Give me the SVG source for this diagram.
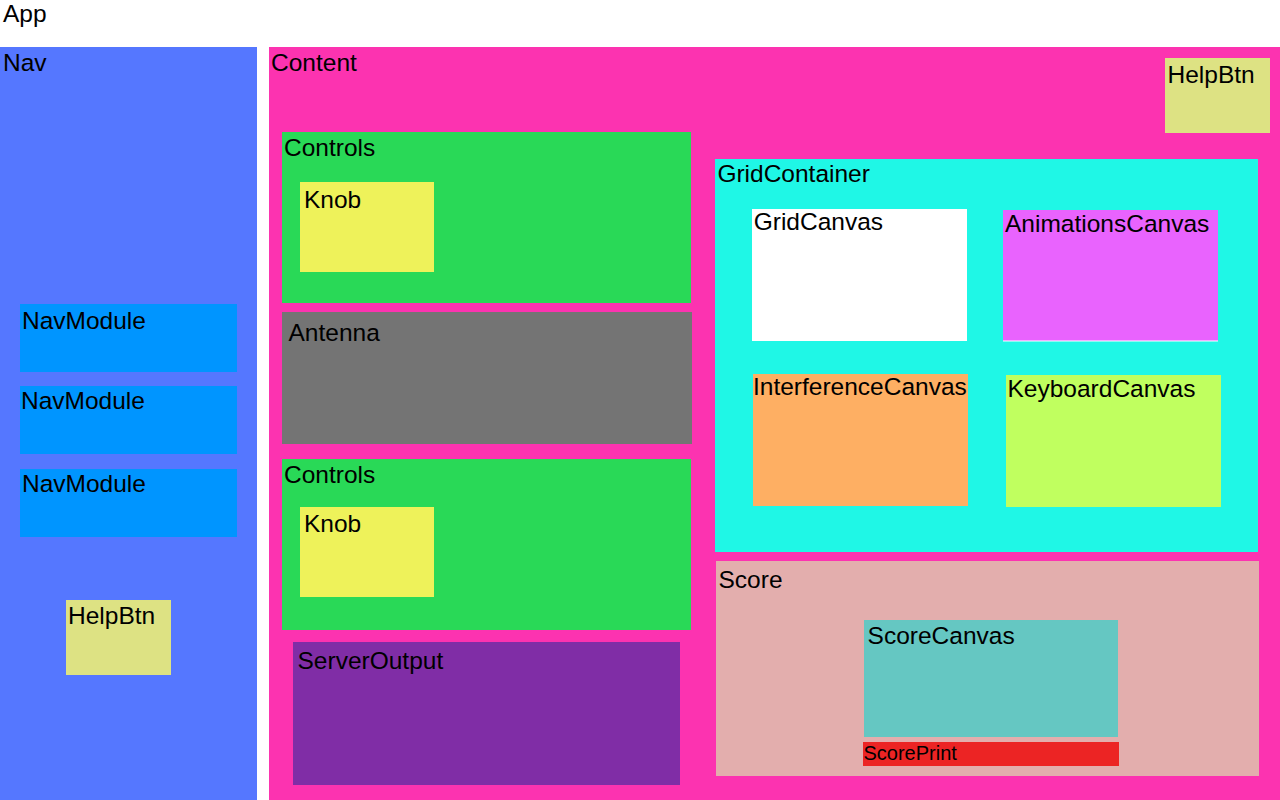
<svg xmlns="http://www.w3.org/2000/svg" width="1280" height="800" viewBox="0 0 1280 800">
<style>
text{font-family:"Liberation Sans",Arial,sans-serif;font-size:24.5px;fill:#000}
.sm{font-size:20px}
</style>
<rect x="0" y="0" width="1280" height="800" fill="#ffffff"/>
<g id="app"><text x="3" y="22">App</text></g>
<g id="nav">
<rect x="0" y="47" width="257" height="753" fill="#5577FF"/>
<text x="3" y="71">Nav</text>
</g>
<g id="navmodule1"><rect x="20" y="304" width="217" height="68" fill="#0095FF"/><text x="22" y="329">NavModule</text></g>
<g id="navmodule2"><rect x="20" y="386" width="217" height="68" fill="#0095FF"/><text x="21" y="409">NavModule</text></g>
<g id="navmodule3"><rect x="20" y="469" width="217" height="68" fill="#0095FF"/><text x="22" y="492">NavModule</text></g>
<g id="nav-helpbtn"><rect x="66" y="600" width="105" height="75" fill="#DDE283"/><text x="68" y="624">HelpBtn</text></g>
<g id="content">
<rect x="269" y="47" width="1011" height="753" fill="#FC33B0"/>
<text x="271" y="71">Content</text>
</g>
<g id="content-helpbtn"><rect x="1165" y="58" width="105" height="75" fill="#DDE283"/><text x="1167.5" y="82.5">HelpBtn</text></g>
<g id="controls1"><rect x="282" y="132" width="409" height="171" fill="#29D957"/><text x="284" y="155.5">Controls</text></g>
<g id="knob1"><rect x="300" y="182" width="134" height="90" fill="#EEF25A"/><text x="304" y="207.5">Knob</text></g>
<g id="antenna"><rect x="282" y="312" width="410" height="132" fill="#747474"/><text x="288.5" y="341">Antenna</text></g>
<g id="controls2"><rect x="282" y="459" width="409" height="171" fill="#29D957"/><text x="284" y="482.5">Controls</text></g>
<g id="knob2"><rect x="300" y="507" width="134" height="90" fill="#EEF25A"/><text x="304" y="532">Knob</text></g>
<g id="serveroutput"><rect x="293" y="642" width="387" height="143" fill="#802DA6"/><text x="297.5" y="668.5">ServerOutput</text></g>
<g id="gridcontainer"><rect x="715" y="159" width="543" height="393" fill="#1FF7E6"/><text x="717.4" y="181.5">GridContainer</text></g>
<g id="gridcanvas"><rect x="752" y="209" width="215" height="132" fill="#ffffff"/><text x="753.7" y="230">GridCanvas</text></g>
<g id="animationscanvas"><rect x="1003" y="210" width="215" height="131" fill="#E963FE"/><rect x="1003" y="340.5" width="215" height="1" fill="#ffffff"/><text x="1005" y="231.5">AnimationsCanvas</text></g>
<g id="interferencecanvas"><rect x="753" y="374" width="215" height="132" fill="#FEAF63"/><text x="753" y="395.3">InterferenceCanvas</text></g>
<g id="keyboardcanvas"><rect x="1006" y="375" width="215" height="132" fill="#C0FF5F"/><text x="1007.5" y="397.3">KeyboardCanvas</text></g>
<g id="score"><rect x="716" y="561" width="543" height="215" fill="#E3AEAD"/><text x="718.5" y="587.5">Score</text></g>
<g id="scorecanvas"><rect x="864" y="620" width="254" height="117" fill="#65C7C2"/><text x="867.6" y="644.3">ScoreCanvas</text></g>
<g id="scoreprint"><rect x="863" y="742" width="256" height="24" fill="#EC2424"/><text class="sm" x="863.5" y="759.5">ScorePrint</text></g>
<g id="connectors"></g>
</svg>
